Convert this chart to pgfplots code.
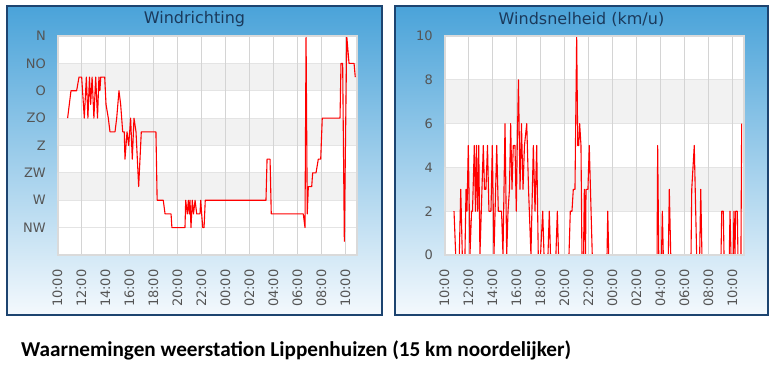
\documentclass[border=0pt]{standalone}
\usepackage{fontspec}
\setmainfont{DejaVu Sans}
\newfontfamily\carlito{Carlito}
\usepackage{pgfplots}
\pgfplotsset{compat=1.18}
\definecolor{bandgray}{HTML}{F2F2F2}
\definecolor{gridv}{HTML}{D4D4D4}
\definecolor{gridh}{HTML}{E4E4E4}
\definecolor{framec}{HTML}{DADADA}
\definecolor{ticktext}{HTML}{555555}
\definecolor{titleblue}{HTML}{1B3A5C}
\definecolor{paneltop}{HTML}{4AA3D9}
\definecolor{panelmid}{HTML}{8CC7EA}
\definecolor{panelbot}{HTML}{F4F9FD}
\definecolor{panelborder}{HTML}{1D4470}
\pgfplotsset{
  panel/.style={
    scale only axis, width=300pt, height=219pt,
    xmin=0, xmax=25,
    xtick={0,2,...,24},
    xticklabels={10:00,12:00,14:00,16:00,18:00,20:00,22:00,00:00,02:00,04:00,06:00,08:00,10:00},
    major tick length=0pt,
    axis line style={draw=framec, line width=1.2pt},
    axis background/.style={fill=white},
    tick label style={font=\fontsize{13}{15}\selectfont, text=ticktext},
    xticklabel style={rotate=90, anchor=east},
    xticklabel shift=11pt,
    yticklabel shift=8pt,
    /pgf/number format/assume math mode=true,
  },
  redline/.style={red, line width=1.1pt, line join=round},
}
\begin{document}
\begin{tikzpicture}[x=1pt,y=1pt]
\useasboundingbox (0,0) rectangle (777,378);
% panels
\shade[top color=paneltop, middle color=panelmid, bottom color=panelbot] (7,63) rectangle (382,372);
\draw[panelborder, line width=1.5pt] (7,63) rectangle (382,372);
\shade[top color=paneltop, middle color=panelmid, bottom color=panelbot] (395,63) rectangle (768,372);
\draw[panelborder, line width=1.5pt] (395,63) rectangle (768,372);
\node[font=\fontsize{16}{18}\selectfont, text=titleblue] at (194.5,359) {Windrichting};
\node[font=\fontsize{16}{18}\selectfont, text=titleblue] at (581.5,359) {Windsnelheid (km/u)};

\begin{axis}[panel, at={(57.3pt,123pt)}, anchor=south west,
  ymin=0, ymax=360, y dir=reverse,
  ytick={0,45,...,315}, yticklabels={N,NO,O,ZO,Z,ZW,W,NW}]
  \fill[bandgray] (axis cs:0,45) rectangle (axis cs:25,90);
  \fill[bandgray] (axis cs:0,135) rectangle (axis cs:25,180);
  \fill[bandgray] (axis cs:0,225) rectangle (axis cs:25,270);
  \pgfplotsinvokeforeach{45,90,135,180,225,270,315}{\draw[gridh, line width=1pt] (axis cs:0,#1) -- (axis cs:25,#1);}
  \pgfplotsinvokeforeach{2,4,6,8,10,12,14,16,18,20,22,24}{\draw[gridv, line width=1.3pt] (axis cs:#1,0) -- (axis cs:#1,360);}
  \addplot[redline] coordinates {
    (0.86,135) (1.14,90) (1.61,90) (1.81,67.5) (2.03,67.5) (2.25,135) (2.42,67.5)
    (2.55,135) (2.68,67.5) (2.78,112.5) (2.90,67.5) (3.05,135) (3.20,67.5) (3.35,135)
    (3.47,67.5) (3.55,90) (3.62,67.5) (3.95,67.5) (4.06,112.5) (4.25,135) (4.39,157.5)
    (4.81,157.5) (4.95,135) (5.14,90) (5.28,112.5) (5.45,157.5) (5.58,157.5) (5.64,202.5)
    (5.81,157.5) (5.95,180) (6.11,135) (6.25,202.5) (6.39,135) (6.56,157.5) (6.78,247.5)
    (6.89,202.5) (7.00,157.5) (8.22,157.5) (8.32,270) (8.83,270) (8.98,292.5) (9.48,292.5)
    (9.55,315) (10.64,315) (10.70,270) (10.83,292.5) (10.92,270) (11.00,292.5) (11.06,270)
    (11.14,315) (11.25,270) (11.35,292.5) (11.48,270) (11.62,292.5) (11.89,292.5)
    (11.95,270) (12.03,292.5) (12.12,315) (12.23,315) (12.33,270) (17.39,270) (17.48,202.5)
    (17.73,202.5) (17.83,292.5) (20.50,292.5) (20.64,315) (20.73,0) (20.83,292.5)
    (20.92,247.5) (21.20,247.5) (21.28,225) (21.56,225) (21.75,202.5) (21.95,202.5)
    (22.08,135) (23.56,135) (23.64,45) (23.78,45) (23.92,337.5) (24.12,0) (24.31,45)
    (24.73,45) (24.83,67.5)
  };
  \draw[framec, line width=2.4pt] (rel axis cs:0,0) rectangle (rel axis cs:1,1);
\end{axis}

\begin{axis}[panel, at={(444.3pt,123pt)}, anchor=south west,
  ymin=0, ymax=10, ytick={0,2,...,10}]
  \fill[bandgray] (axis cs:0,6) rectangle (axis cs:25,8);
  \fill[bandgray] (axis cs:0,2) rectangle (axis cs:25,4);
  \pgfplotsinvokeforeach{2,4,6,8}{\draw[gridh, line width=1pt] (axis cs:0,#1) -- (axis cs:25,#1);}
  \pgfplotsinvokeforeach{2,4,6,8,10,12,14,16,18,20,22,24}{\draw[gridv, line width=1.3pt] (axis cs:#1,0) -- (axis cs:#1,10);}
  \addplot[redline] coordinates {
    (0.81,2) (0.95,0) (1.25,0) (1.37,3) (1.50,0) (1.72,0) (1.81,3) (1.89,2) (2.00,5)
    (2.14,0) (2.27,2) (2.35,2) (2.50,5) (2.60,2) (2.68,5) (2.78,2) (2.87,5) (2.97,0)
    (3.25,5) (3.35,3) (3.47,3) (3.60,5) (3.72,2) (3.89,2) (4.00,5) (4.14,0) (4.37,5)
    (4.50,2) (4.77,2) (4.89,0) (5.06,6) (5.20,0) (5.31,2) (5.43,3) (5.53,6) (5.64,3)
    (5.75,5) (5.89,5) (6.00,2) (6.08,5) (6.18,8) (6.31,3) (6.43,6) (6.56,3) (6.68,5)
    (6.87,6) (7.02,3) (7.22,0) (7.42,5) (7.56,2) (7.70,5) (7.83,0) (8.02,0) (8.20,2)
    (8.31,0) (8.64,0) (8.75,2) (8.85,0) (9.30,0) (9.42,2) (9.52,0) (10.39,0) (10.50,2)
    (10.64,2) (10.75,3) (10.89,3) (11.03,10) (11.12,5) (11.20,5) (11.28,6) (11.39,5)
    (11.47,0) (11.60,0) (11.67,3) (11.77,0) (11.81,3) (11.97,3) (12.08,5) (12.18,3)
    (12.33,0) (13.56,0) (13.62,2) (13.70,0) (17.73,0) (17.78,5) (17.87,0) (18.10,0)
    (18.17,2) (18.25,0) (18.67,0) (18.75,3) (18.87,0) (20.56,0) (20.62,3) (20.83,5)
    (21.03,0) (21.28,0) (21.37,3) (21.47,0) (23.06,0) (23.12,2) (23.25,2) (23.31,0)
    (23.75,0) (23.81,2) (23.89,0) (24.08,0) (24.14,2) (24.22,0) (24.28,2) (24.42,2)
    (24.47,0) (24.72,0) (24.78,6)
  };
  \draw[framec, line width=2.4pt] (rel axis cs:0,0) rectangle (rel axis cs:1,1);
\end{axis}

\node[font=\carlito\bfseries\fontsize{21.2}{25}\selectfont, anchor=west, inner sep=0pt] at (21,27.5) {Waarnemingen weerstation Lippenhuizen (15 km noordelijker)};
\end{tikzpicture}
\end{document}
